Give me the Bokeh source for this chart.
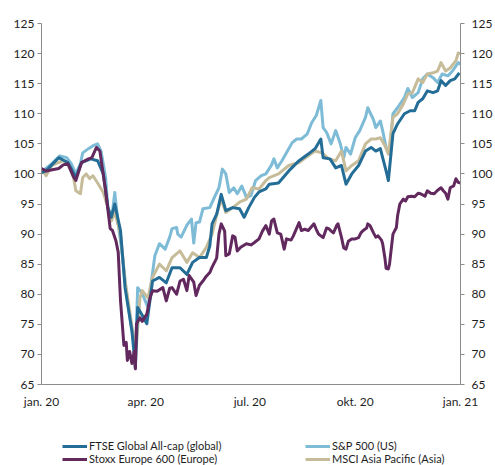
from bokeh.plotting import figure
from bokeh.layouts import column
from bokeh.models import Legend, LegendItem, LinearAxis, FixedTicker, Range1d
from bokeh.embed import file_html
from bokeh.resources import INLINE

# day offsets since 1 Jan 2020, index level (1 Jan 2020 = 100)
ftse_day = [0,4,9,15,23,30,35,43,49,54,58,61,64,69,73,79,82,84,88,92,97,103,109,114,121,127,132,138,144,147,149,153,157,161,167,173,177,181,186,190,196,199,207,216,225,233,239,244,246,252,257,262,266,271,277,283,288,292,296,298,301,303,307,311,317,322,326,329,333,337,342,346,349,353,357,361,365]
ftse = [100.2,100.5,101.5,102.7,101.9,99.4,101.9,102.5,102.2,100,94.4,92.8,95,90.6,81.1,73.9,67.8,77.8,76.5,75.1,82.2,82.8,81.9,84.4,84.4,83.3,85.3,86.1,86.1,88,91.7,93.3,96.6,93.9,94.4,94.2,92.8,94.4,96.1,97,97.5,98.3,98.5,100.5,102.2,103.3,104.2,105.8,102.7,102.5,101,101.4,98.3,100,101.4,103.8,104.4,103.8,104.2,102.7,100.5,98.9,106.7,108.3,110,110.5,110.5,111.9,112.5,113.8,113.5,113.8,115.5,114.7,115.5,115.8,116.8]

sp_day = [0,9,16,22,26,30,34,36,41,45,49,52,56,58,61,64,67,70,75,80,82,84,88,93,99,103,108,112,114,118,119,122,127,131,133,135,138,141,147,151,155,158,161,164,168,171,175,179,183,187,192,196,201,203,206,210,214,219,223,227,232,236,240,244,246,249,253,257,261,264,266,270,274,278,283,285,290,292,296,298,301,304,307,311,317,320,324,329,333,337,342,346,350,355,359,364,366]
sp = [100.3,101.7,103,102.7,101.7,100,101.7,103.5,104.2,104.7,105,103.8,99.4,94.4,92.2,96.9,91.7,87.5,78.9,72.8,69.5,81.1,80.1,77.8,86.4,88.4,87.5,89.5,90.9,91.1,90,89.5,91.5,92.5,88.5,91.9,92,94.2,94.4,96.1,97.7,100.8,100,96.9,97.7,96.7,98,96.1,96.4,98.9,99.7,100,101.5,102.5,101,102.2,103.5,105.2,105.8,105.8,106.6,108.5,109.7,112.2,107.7,106.9,105,107.2,105,102.7,104.4,103.3,106,107.2,109.4,111,109,107.7,108.8,107.2,104.4,103.3,110,111,112.7,114.2,112.7,113.5,115.8,116.6,116,115.2,116.6,116.3,117.1,118.5,118.2]

stoxx_day = [0,4,15,19,23,28,30,35,41,44,48,51,56,60,62,65,67,69,72,74,75,77,79,81,82,83,86,88,92,95,97,101,106,109,112,114,118,121,124,127,129,133,135,138,141,144,147,149,153,155,157,160,161,164,167,169,171,174,179,183,186,190,193,196,199,201,203,206,209,212,214,218,220,225,227,230,233,238,240,242,246,249,251,253,255,258,259,262,264,266,268,271,274,277,279,281,284,285,287,290,292,294,297,298,300,301,303,304,307,310,311,313,316,318,320,323,326,329,331,335,337,340,343,346,349,351,353,355,357,360,362,364,366]
stoxx = [100.9,100.5,100.9,101.5,101.7,99.5,98.9,101.9,102.5,102.7,104.4,103.8,97.2,90.9,90.6,88.9,87,79,71.5,72,69,70.5,68.5,70.5,67.6,75.1,76.1,75.5,76.7,79.5,80.6,80.5,81.1,78.9,81,81.1,80,82.2,82.5,80.6,83.1,82,79.8,81.5,82.2,83,83.6,84.5,86,90,91.7,90.5,86.4,86.7,89.7,89.5,87.2,87.8,88.4,88.2,88.6,89.2,90.5,91.4,90,92.2,92.5,90.2,90,87.5,89.2,89,89.7,91.9,90.6,90.8,90.6,91.7,90.8,90,89.4,91,90.9,90.5,90.2,91.5,91.7,89.5,87.7,87.5,88.8,89.2,89.2,89.4,90.2,90.6,91,91.7,91.4,90.2,89.5,89.7,89,88.4,86,84.3,84.2,85,90,91.1,93,95,95.8,95.5,96.2,96.3,96.2,96.8,96.7,96.3,97.2,96.8,96.7,97.3,97.7,97.2,96.8,95.8,97.7,98,99.2,98.6,98.5]

msci_day = [0,4,9,15,19,23,28,30,34,36,39,42,45,49,54,58,61,64,69,73,77,80,83,86,88,93,97,103,109,114,121,127,132,138,144,149,154,157,161,167,173,179,184,190,196,199,207,216,225,233,239,245,251,257,262,266,271,277,283,288,292,296,300,303,307,311,316,320,324,329,333,337,342,346,349,353,357,362,364,366]
msci = [100.8,99.7,101.4,101.9,102.2,101.7,99.4,97.2,96.7,99.4,100,99.2,99.7,98.5,96.9,94.4,92.2,93.6,90,82.2,77.2,73.3,71.7,79.4,80.6,79.4,82.8,85,83.9,86.1,87.2,85.3,86.9,86.1,87.8,90,93.9,95.8,93.6,94.4,95.3,95.8,97.7,97.5,98.9,99.4,100,101.4,101.9,103,103.8,103.5,102.5,102.2,103.8,100.5,101.4,102.2,105,105.8,105.8,106,104.7,103.3,109.4,110,111.6,113.3,113.5,115.8,115.2,116.6,116.8,117.1,118.5,117.1,117.6,118.8,120.1,120]

labels = ["FTSE Global All-cap (global)", "S&P 500 (US)", "Stoxx Europe 600 (Europe)", "MSCI Asia Pacific (Asia)"]
colors = ["#236D96", "#7DBBD6", "#62295F", "#C7BC99"]
x_ticks = [0, 91, 182, 274, 366]
x_tick_labels = ["jan. 20", "apr. 20", "jul. 20", "okt. 20", "jan. 21"]
y_ticks = list(range(65, 126, 5))

FONT = "Lato"
TXT = "#1e1e1e"
AX = "#8c8c8c"

p = figure(width=495, height=415, output_backend="svg", toolbar_location=None,
           x_range=Range1d(0, 366), y_range=Range1d(65, 125),
           min_border_left=41, min_border_right=32, min_border_top=23, min_border_bottom=31)
p.outline_line_color = None
p.grid.visible = False

r_sp = p.line(sp_day, sp, line_color=colors[1], line_width=3, line_join="round")
r_msci = p.line(msci_day, msci, line_color=colors[3], line_width=3, line_join="round")
r_ftse = p.line(ftse_day, ftse, line_color=colors[0], line_width=3, line_join="round")
r_stoxx = p.line(stoxx_day, stoxx, line_color=colors[2], line_width=3, line_join="round")

def style_y(ax, standoff):
    ax.ticker = FixedTicker(ticks=y_ticks)
    ax.axis_line_color = AX
    ax.major_tick_line_color = AX
    ax.major_tick_in = 0
    ax.major_tick_out = 4
    ax.minor_tick_line_color = None
    ax.major_label_text_font = FONT
    ax.major_label_text_font_size = "12px"
    ax.major_label_text_color = TXT
    ax.major_label_standoff = standoff

style_y(p.yaxis[0], 3)
ry = LinearAxis()
style_y(ry, 7)
p.add_layout(ry, "right")

xa = p.xaxis[0]
xa.ticker = FixedTicker(ticks=x_ticks)
xa.major_label_overrides = {t: l for t, l in zip(x_ticks, x_tick_labels)}
xa.axis_line_color = AX
xa.major_tick_line_color = None
xa.minor_tick_line_color = None
xa.major_label_text_font = FONT
xa.major_label_text_font_size = "12px"
xa.major_label_text_color = TXT
xa.major_label_standoff = 3

# legend strip below the chart (legend keys only, nothing plotted)
nan = float("nan")
lg = figure(width=495, height=50, output_backend="svg", toolbar_location=None,
            x_axis_type=None, y_axis_type=None, x_range=Range1d(0, 1), y_range=Range1d(0, 1),
            min_border_left=0, min_border_right=0, min_border_top=0, min_border_bottom=0)
lg.outline_line_color = None
lg.grid.visible = False
keys = [lg.line([nan], [nan], line_color=c, line_width=3) for c in colors]

order = [0, 2, 1, 3]  # filled column by column -> rows: FTSE | S&P, Stoxx | MSCI
legend = Legend(items=[LegendItem(label=labels[i], renderers=[keys[i]]) for i in order],
                ncols=2, location=(21, 0), border_line_color=None,
                background_fill_alpha=0, padding=0, margin=0, spacing=0,
                glyph_width=25, glyph_height=12, label_height=12, label_standoff=2,
                label_width=216, label_text_font=FONT, label_text_font_size="11px",
                label_text_color=TXT)
lg.add_layout(legend, "center")

open("out.html", "w").write(file_html(column(p, lg, spacing=0), INLINE))
